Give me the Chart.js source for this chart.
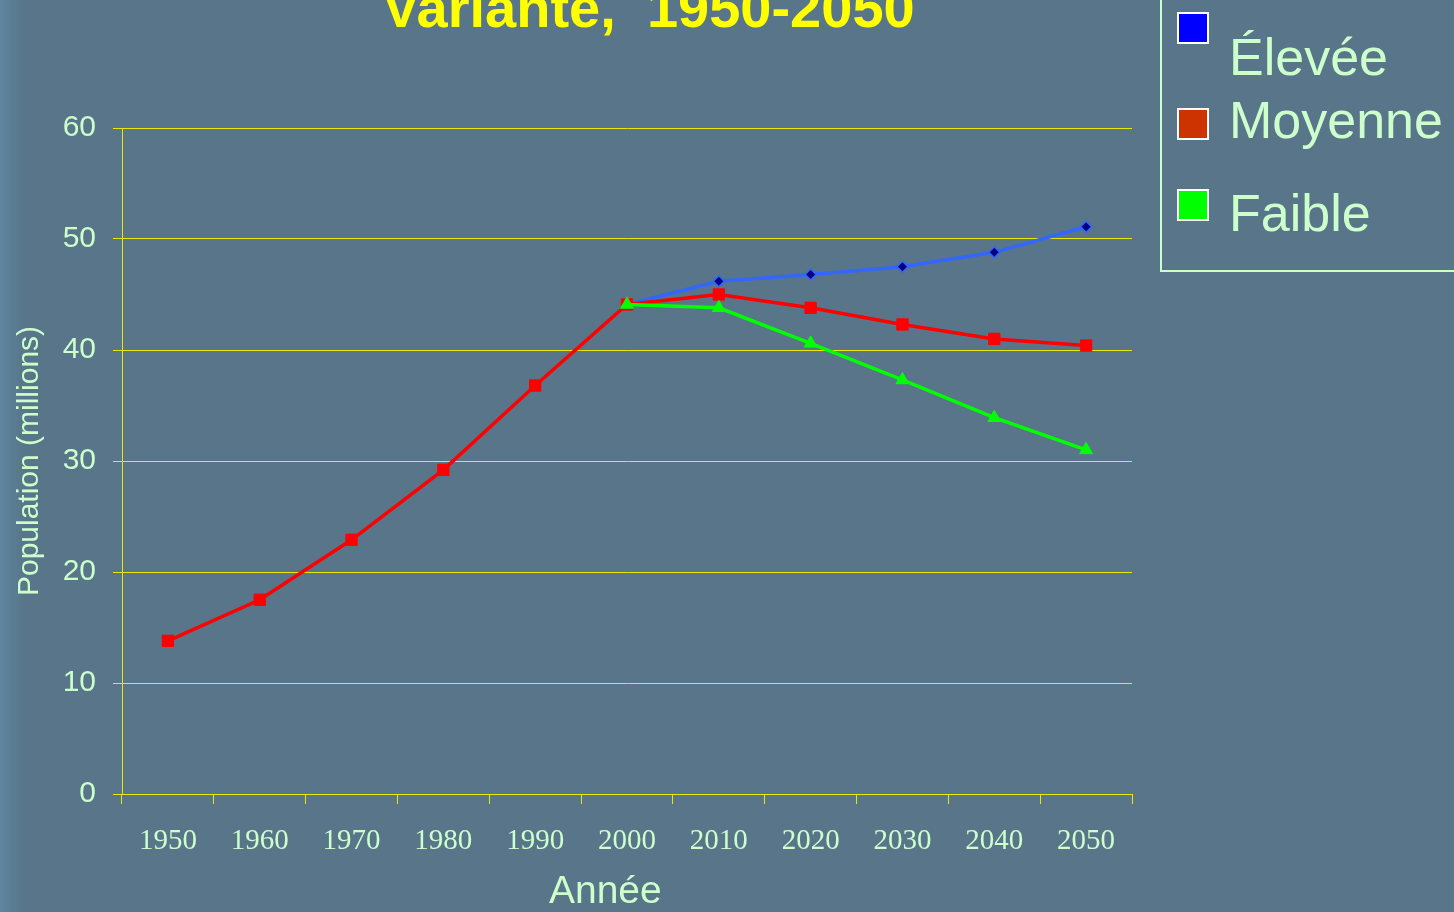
<!DOCTYPE html>
<html>
<head>
<meta charset="utf-8">
<script src="https://cdn.jsdelivr.net/npm/chart.js@4.4.1/dist/chart.umd.min.js"></script>
<style>
  html, body { margin:0; padding:0; width:1454px; height:912px; overflow:hidden; }
  body { background: linear-gradient(to right, #5f88a0 0px, #5a7b90 14px, #587589 28px, #587589 100%); position:relative; font-family:"Liberation Sans", Arial, sans-serif; }
  #c { position:absolute; left:0; top:0; }
  #title { position:absolute; left:0; width:1297px; top:-20px; text-align:center; color:#ffff00; font-weight:bold; font-size:56px; line-height:55px; white-space:pre; }
  #legend { position:absolute; left:1160px; top:-10px; width:400px; height:282px; border:2px solid #ccffcc; box-sizing:border-box; }
  .sw { position:absolute; left:1177px; width:32px; height:32px; border:2px solid #ffffff; box-sizing:border-box; }
  .lt { position:absolute; left:1229px; color:#ccffcc; font-size:52px; line-height:52px; white-space:nowrap; }
</style>
</head>
<body>
<div id="title">Variante,  1950-2050</div>
<div id="legend"></div>
<div id="legendItems"></div>
<canvas id="c" width="1454" height="912"></canvas>
<script>
const years = ['1950','1960','1970','1980','1990','2000','2010','2020','2030','2040','2050'];
const elevee  = [null, null, null, null, null, 44.1, 46.2, 46.8, 47.5, 48.8, 51.1];
const moyenne = [13.8, 17.5, 22.9, 29.2, 36.8, 44.1, 45.0, 43.8, 42.3, 41.0, 40.4];
const faible  = [null, null, null, null, null, 44.1, 43.8, 40.6, 37.3, 33.9, 31.0];
const seriesNames = ['Élevée', 'Moyenne', 'Faible'];
const legendColors = ['#0000ff', '#cc3300', '#00ff00'];

// HTML legend
const legendTops = [{sw:12, tx:31}, {sw:108, tx:94}, {sw:189, tx:187}];
const li = document.getElementById('legendItems');
seriesNames.forEach((n, i) => {
  const s = document.createElement('div');
  s.className = 'sw'; s.style.top = legendTops[i].sw + 'px'; s.style.background = legendColors[i];
  li.appendChild(s);
  const t = document.createElement('div');
  t.className = 'lt'; t.style.top = legendTops[i].tx + 'px'; t.textContent = n;
  li.appendChild(t);
});

const txt = '#ccffcc';
const yel = '#e8e800';

new Chart(document.getElementById('c'), {
  type: 'line',
  data: {
    labels: years,
    datasets: [
      { label: seriesNames[0], data: elevee, borderColor:'#3366ff', borderWidth:3.5,
        pointStyle:'rectRot', pointRadius:5.5, pointBackgroundColor:'#000080', pointBorderColor:'#3366ff', pointBorderWidth:1.5, order:3, tension:0 },
      { label: seriesNames[1], data: moyenne, borderColor:'#ff0000', borderWidth:3.5,
        pointStyle:'rect', pointRadius:8, pointBackgroundColor:'#ff0000', pointBorderColor:'#ff0000', pointBorderWidth:1, order:2, tension:0 },
      { label: seriesNames[2], data: faible, borderColor:'#00ff00', borderWidth:3.5,
        pointStyle:'triangle', pointRadius:7.5, pointBackgroundColor:'#00ff00', pointBorderColor:'#00ff00', pointBorderWidth:1, order:1, tension:0 }
    ]
  },
  options: {
    responsive:false, animation:false, devicePixelRatio:1,
    layout: { padding: { left:0, top:128, right:322, bottom:0 } },
    plugins: { legend:{ display:false }, title:{ display:false }, tooltip:{ enabled:false } },
    scales: {
      x: {
        offset:true,
        afterFit: (s) => { s.height = 118; },
        grid: { offset:true, drawOnChartArea:false, drawTicks:true, tickLength:10, color:yel, lineWidth:1 },
        border: { display:true, color:yel, width:1 },
        ticks: { color:txt, font:{ family:'"Liberation Serif", "Times New Roman", serif', size:29 }, padding:20, maxRotation:0, autoSkip:false },
        title: { display:true, text:'Année\u00a0\u00a0\u00a0\u00a0', color:txt, font:{ family:'"Liberation Sans", Arial, sans-serif', size:39, lineHeight:1 }, padding:{ top:0, bottom:0 } }
      },
      y: {
        min:0, max:60,
        afterFit: (s) => { s.width = 122; },
        grid: { drawOnChartArea:true, drawTicks:true, tickLength:9, color:yel, lineWidth:1 },
        border: { display:true, color:yel, width:1 },
        ticks: { stepSize:10, color:txt, font:{ family:'"Liberation Sans", Arial, sans-serif', size:30 }, padding:17 },
        title: { display:true, text:'Population (millions)', color:txt, font:{ family:'"Liberation Sans", Arial, sans-serif', size:30 }, padding:{ top:12, bottom:0 } }
      }
    }
  }
});
</script>
</body>
</html>
